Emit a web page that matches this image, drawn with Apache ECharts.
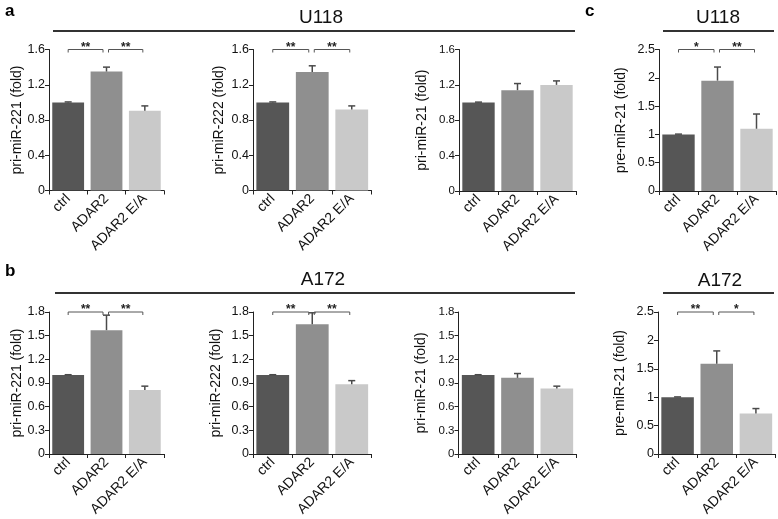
<!DOCTYPE html>
<html>
<head>
<meta charset="utf-8">
<script src="https://cdn.jsdelivr.net/npm/echarts@6/dist/echarts.min.js"></script>
<style>
  html, body { margin: 0; padding: 0; background: #fff; }
  #chart { width: 778px; height: 519px; }
</style>
</head>
<body>
<div id="chart"></div>
<script>
// groups on the x axis
const categories = ['ctrl', 'ADAR2', 'ADAR2 E/A'];
const barColors = ['#565656', '#8f8f8f', '#c9c9c9'];

// a: U118, pri-miRNAs (fold), mean and error
const u118Pri221 = [1.0, 1.35, 0.905];
const u118Pri221Err = [0.005, 0.05, 0.055];
const u118Pri222 = [1.0, 1.345, 0.92];
const u118Pri222Err = [0.005, 0.07, 0.04];
const u118Pri21 = [1.0, 1.14, 1.2];
const u118Pri21Err = [0.005, 0.075, 0.045];

// b: A172, pri-miRNAs (fold)
const a172Pri221 = [1.0, 1.57, 0.81];
const a172Pri221Err = [0.005, 0.19, 0.05];
const a172Pri222 = [1.0, 1.645, 0.885];
const a172Pri222Err = [0.005, 0.145, 0.045];
const a172Pri21 = [1.0, 0.965, 0.83];
const a172Pri21Err = [0.005, 0.055, 0.03];

// c: pre-miR-21 (fold)
const u118Pre21 = [1.0, 1.95, 1.10];
const u118Pre21Err = [0.005, 0.24, 0.26];
const a172Pre21 = [1.0, 1.59, 0.715];
const a172Pre21Err = [0.005, 0.225, 0.085];

// significance marks: ctrl vs ADAR2, ADAR2 vs ADAR2 E/A
const u118Pri221Sig = ['**', '**'];
const u118Pri222Sig = ['**', '**'];
const u118Pre21Sig = ['*', '**'];
const a172Pri221Sig = ['**', '**'];
const a172Pri222Sig = ['**', '**'];
const a172Pre21Sig = ['**', '*'];

const FONT = '"Liberation Sans", Arial, sans-serif';

const panels = [
  { grid: { left: 49, top: 49.5, width: 115, height: 141 }, max: 1.6, interval: 0.4, name: 'pri-miR-221 (fold)', gap: 24, vals: u118Pri221, err: u118Pri221Err, sig: u118Pri221Sig },
  { grid: { left: 253, top: 49.5, width: 118.5, height: 141 }, max: 1.6, interval: 0.4, name: 'pri-miR-222 (fold)', gap: 27, vals: u118Pri222, err: u118Pri222Err, sig: u118Pri222Sig },
  { grid: { left: 459, top: 49.5, width: 117, height: 141.5 }, max: 1.6, interval: 0.4, name: 'pri-miR-21 (fold)', gap: 30, vals: u118Pri21, err: u118Pri21Err, sig: null, small: true },
  { grid: { left: 659, top: 49.5, width: 117, height: 141.5 }, max: 2.5, interval: 0.5, name: 'pre-miR-21 (fold)', gap: 31, vals: u118Pre21, err: u118Pre21Err, sig: u118Pre21Sig },
  { grid: { left: 49, top: 312, width: 115, height: 142 }, max: 1.8, interval: 0.3, name: 'pri-miR-221 (fold)', gap: 24, vals: a172Pri221, err: a172Pri221Err, sig: a172Pri221Sig },
  { grid: { left: 253, top: 312, width: 118.5, height: 142 }, max: 1.8, interval: 0.3, name: 'pri-miR-222 (fold)', gap: 30, vals: a172Pri222, err: a172Pri222Err, sig: a172Pri222Sig },
  { grid: { left: 458.5, top: 312, width: 118, height: 142 }, max: 1.8, interval: 0.3, name: 'pri-miR-21 (fold)', gap: 30, vals: a172Pri21, err: a172Pri21Err, sig: null, small: true },
  { grid: { left: 658, top: 312, width: 117.5, height: 142 }, max: 2.5, interval: 0.5, name: 'pre-miR-21 (fold)', gap: 31, vals: a172Pre21, err: a172Pre21Err, sig: a172Pre21Sig }
];

function renderError(params, api) {
  const x = api.value(0);
  const lo = api.coord([x, api.value(1)]);
  const hi = api.coord([x, api.value(2)]);
  const w = 3.5;
  const st = { stroke: '#4a4a4a', lineWidth: 1.5 };
  return {
    type: 'group',
    children: [
      { type: 'line', shape: { x1: lo[0], y1: lo[1], x2: hi[0], y2: hi[1] }, style: st },
      { type: 'line', shape: { x1: hi[0] - w, y1: hi[1], x2: hi[0] + w, y2: hi[1] }, style: st }
    ]
  };
}

function makeBracket(sig) {
  return function (params, api) {
    const a = api.coord([api.value(0), api.value(2)]);
    const b = api.coord([api.value(1), api.value(2)]);
    const first = params.dataIndex === 0;
    const x1 = a[0] + (first ? 0 : 2);
    const x2 = b[0] - (first ? 3.5 : 2);
    const y = a[1];
    return {
      type: 'group',
      children: [
        { type: 'polyline', shape: { points: [[x1, y + 3], [x1, y], [x2, y], [x2, y + 3]] },
          style: { stroke: '#555', lineWidth: 1, fill: null } },
        { type: 'text', style: { text: sig[params.dataIndex], x: (x1 + x2) / 2, y: y - 2,
          align: 'center', verticalAlign: 'middle', font: 'bold 12px ' + FONT, fill: '#222' } }
      ]
    };
  };
}

const grids = [], xAxes = [], yAxes = [], series = [];
panels.forEach((p, i) => {
  grids.push(p.grid);
  xAxes.push({
    type: 'category', gridIndex: i, data: categories,
    axisLine: { lineStyle: { color: '#222', width: 1 } },
    axisTick: { show: true, length: 4, lineStyle: { color: '#222' } },
    axisLabel: { rotate: 45, interval: 0, margin: 6, fontSize: 14, color: '#111', fontFamily: FONT }
  });
  yAxes.push({
    type: 'value', gridIndex: i, min: 0, max: p.max, interval: p.interval,
    name: p.name, nameLocation: 'middle', nameGap: p.gap,
    nameTextStyle: { fontSize: 14, color: '#111', fontFamily: FONT },
    axisLine: { show: true, lineStyle: { color: '#222', width: 1 } },
    axisTick: { show: true, length: 4, lineStyle: { color: '#222' } },
    splitLine: { show: false },
    axisLabel: { fontSize: p.small ? 11.5 : 12.5, margin: 4, color: '#111', fontFamily: FONT }
  });
  series.push({
    type: 'bar', xAxisIndex: i, yAxisIndex: i, barCategoryGap: '17%',
    data: p.vals.map((v, k) => ({ value: v, itemStyle: { color: barColors[k] } })),
    animation: false
  });
  series.push({
    type: 'custom', xAxisIndex: i, yAxisIndex: i, renderItem: renderError, clip: false,
    encode: { x: 0, y: [1, 2] },
    data: p.vals.map((v, k) => [k, v, v + p.err[k]]),
    z: 5, animation: false
  });
  if (p.sig) {
    series.push({
      type: 'custom', xAxisIndex: i, yAxisIndex: i, renderItem: makeBracket(p.sig), clip: false,
      encode: { x: [0, 1], y: 2 },
      data: [[0, 1, p.max], [1, 2, p.max]],
      z: 5, animation: false
    });
  }
});

const headFont = '19px ' + FONT;
const graphic = [
  { type: 'text', left: 5, top: 3, style: { text: 'a', font: 'bold 17px ' + FONT, fill: '#000' } },
  { type: 'text', left: 5, top: 263, style: { text: 'b', font: 'bold 17px ' + FONT, fill: '#000' } },
  { type: 'text', left: 585, top: 3, style: { text: 'c', font: 'bold 17px ' + FONT, fill: '#000' } },
  { type: 'text', x: 321, y: 18, style: { text: 'U118', font: headFont, fill: '#111', align: 'center', verticalAlign: 'middle' } },
  { type: 'text', x: 718, y: 18, style: { text: 'U118', font: headFont, fill: '#111', align: 'center', verticalAlign: 'middle' } },
  { type: 'text', x: 323, y: 280, style: { text: 'A172', font: headFont, fill: '#111', align: 'center', verticalAlign: 'middle' } },
  { type: 'text', x: 720, y: 281, style: { text: 'A172', font: headFont, fill: '#111', align: 'center', verticalAlign: 'middle' } },
  { type: 'line', shape: { x1: 53, y1: 31, x2: 575, y2: 31 }, style: { stroke: '#333', lineWidth: 1.8 } },
  { type: 'line', shape: { x1: 663, y1: 31, x2: 774, y2: 31 }, style: { stroke: '#333', lineWidth: 1.8 } },
  { type: 'line', shape: { x1: 55, y1: 293, x2: 575, y2: 293 }, style: { stroke: '#333', lineWidth: 1.8 } },
  { type: 'line', shape: { x1: 663, y1: 293, x2: 774, y2: 293 }, style: { stroke: '#333', lineWidth: 1.8 } }
];

const chart = echarts.init(document.getElementById('chart'));
chart.setOption({
  backgroundColor: '#fff',
  animation: false,
  grid: grids,
  xAxis: xAxes,
  yAxis: yAxes,
  series: series,
  graphic: graphic
});
</script>
</body>
</html>
